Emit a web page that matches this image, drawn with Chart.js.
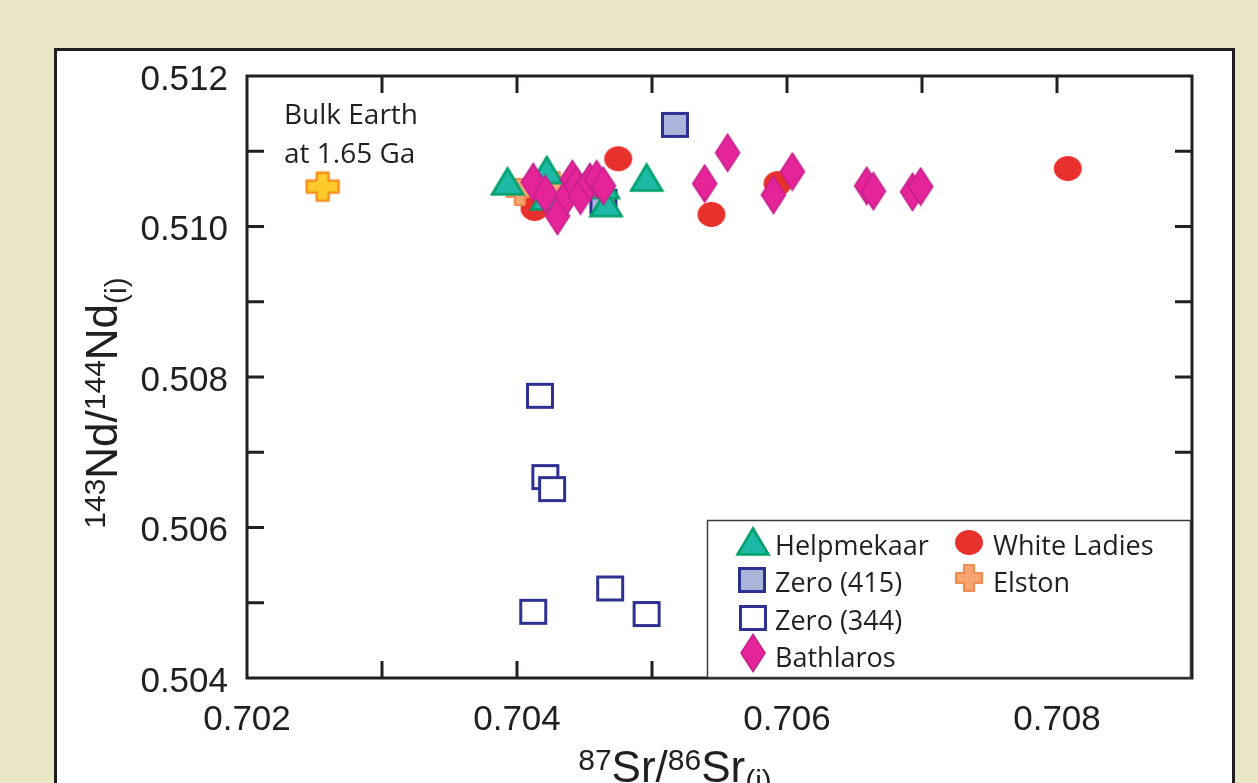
<!DOCTYPE html>
<html>
<head>
<meta charset="utf-8">
<script src="https://cdn.jsdelivr.net/npm/chart.js@4.4.1/dist/chart.umd.min.js"></script>
<style>
html,body{margin:0;padding:0;background:#EAE7C6;}
#wrap{width:1258px;height:783px;position:relative;}
canvas{display:block;}
</style>
</head>
<body>
<div id="wrap"><canvas id="c" width="1258" height="783"></canvas></div>
<script>
// ---------- DATA (87Sr/86Sr(i), 143Nd/144Nd(i)) ----------
const seriesNames = ['Helpmekaar', 'Zero (415)', 'Zero (344)', 'Bathlaros', 'White Ladies', 'Elston'];
const helpmekaar = [[0.70393,0.51060],[0.70422,0.51075],[0.70496,0.51065],[0.70466,0.51031],[0.70422,0.51040],[0.70464,0.51055]];
const zero415 = [[0.70517,0.51135],[0.70464,0.51033]];
const zero344 = [[0.70417,0.50775],[0.70421,0.50667],[0.70426,0.50651],[0.70469,0.50519],[0.70412,0.50488],[0.70496,0.50485]];
const bathlaros = [[0.70412,0.51059],[0.70421,0.51043],[0.70430,0.51014],[0.70437,0.51041],[0.70441,0.51063],[0.70444,0.51054],[0.70447,0.51041],[0.70454,0.51059],[0.70459,0.51063],[0.70464,0.51054],[0.70539,0.51057],[0.70556,0.51098],[0.70590,0.51042],[0.70604,0.51073],[0.70659,0.51054],[0.70664,0.51047],[0.70693,0.51046],[0.70699,0.51053]];
const whiteLadies = [[0.70413,0.51024],[0.70475,0.51090],[0.70544,0.51016],[0.70593,0.51057],[0.70808,0.51077]];
const elston = [[0.70402,0.51046],[0.70428,0.51055]];
const bulkEarth = [[0.70256,0.51053]];
const annotationLines = ['Bulk Earth', 'at 1.65 Ga'];
const xTickLabels = ['0.702','0.704','0.706','0.708'];
const yTickLabels = ['0.504','0.506','0.508','0.510','0.512'];
const xRange = [0.702, 0.709];
const yRange = [0.504, 0.512];

// ---------- marker images ----------
function mk(w,h,fn){const c=document.createElement('canvas');c.width=w;c.height=h;const g=c.getContext('2d');fn(g,w,h);return c;}
const imgTriangle = mk(36,31,(g)=>{g.beginPath();g.moveTo(18,2.5);g.lineTo(33.5,28.5);g.lineTo(2.5,28.5);g.closePath();g.fillStyle='#1EB8A6';g.fill();g.lineJoin='miter';g.lineWidth=2.6;g.strokeStyle='#00A16A';g.stroke();});
const imgSqFilled = mk(30,28,(g)=>{g.fillStyle='#ABB4DA';g.fillRect(2,2,26,24);g.lineWidth=3;g.strokeStyle='#2E3192';g.strokeRect(2.5,2.5,25,23);});
const imgSqOpen = mk(30,28,(g)=>{g.fillStyle='#FFFFFF';g.fillRect(2,2,26,24);g.lineWidth=3;g.strokeStyle='#2E3192';g.strokeRect(2.5,2.5,25,23);});
const imgDiamond = mk(28,40,(g)=>{g.beginPath();g.moveTo(14,1.5);g.lineTo(26,20);g.lineTo(14,38.5);g.lineTo(2,20);g.closePath();g.fillStyle='#E6249A';g.fill();g.lineWidth=1.6;g.strokeStyle='#C5208D';g.stroke();});
const imgCircle = mk(30,27,(g)=>{g.beginPath();g.ellipse(15,13.5,14,12.5,0,0,Math.PI*2);g.fillStyle='#E8302D';g.fill();});
function crossPath(g,cx,cy,hw,hh,a){g.beginPath();g.moveTo(cx-a,cy-hh);g.lineTo(cx+a,cy-hh);g.lineTo(cx+a,cy-a);g.lineTo(cx+hw,cy-a);g.lineTo(cx+hw,cy+a);g.lineTo(cx+a,cy+a);g.lineTo(cx+a,cy+hh);g.lineTo(cx-a,cy+hh);g.lineTo(cx-a,cy+a);g.lineTo(cx-hw,cy+a);g.lineTo(cx-hw,cy-a);g.lineTo(cx-a,cy-a);g.closePath();}
const imgElston = mk(32,32,(g)=>{crossPath(g,16,16,13,13,5);g.fillStyle='#F5A572';g.fill();g.lineJoin='round';g.lineWidth=2.2;g.strokeStyle='#F18C4E';g.stroke();});
const imgBulk = mk(40,36,(g)=>{crossPath(g,20,18,16,14,6);g.fillStyle='#FDC92B';g.fill();g.lineJoin='round';g.lineWidth=2.4;g.strokeStyle='#F5901E';g.stroke();});

const toPts = a => a.map(p=>({x:p[0],y:p[1]}));
// Chart.js draws dataset 0 on top, so the list runs from top-most to bottom-most
const datasets = [
  {label:seriesNames[3], data:toPts(bathlaros), pointStyle:imgDiamond},
  {label:seriesNames[0], data:toPts(helpmekaar), pointStyle:imgTriangle},
  {label:seriesNames[1], data:toPts(zero415), pointStyle:imgSqFilled},
  {label:seriesNames[2], data:toPts(zero344), pointStyle:imgSqOpen},
  {label:'Bulk Earth', data:toPts(bulkEarth), pointStyle:imgBulk},
  {label:seriesNames[5], data:toPts(elston), pointStyle:imgElston},
  {label:seriesNames[4], data:toPts(whiteLadies), pointStyle:imgCircle}
];

const INK = '#231F20';
const tickFont = {family:'"Liberation Sans", Arial, sans-serif', size:35};
const textFam = '"Open Sans", "Noto Sans", sans-serif';

function drawRich(ctx, segs, x, y, align){
  let total=0;
  segs.forEach(s=>{ctx.font=s[1]+'px "Liberation Sans", Arial, sans-serif';total+=ctx.measureText(s[0]).width;});
  let cx = align==='center'? x-total/2 : x;
  segs.forEach(s=>{ctx.font=s[1]+'px "Liberation Sans", Arial, sans-serif';ctx.fillText(s[0],cx,y+s[2]);cx+=ctx.measureText(s[0]).width;});
}

const framePlugin = {
  id:'frame',
  beforeDraw(chart){
    const ctx=chart.ctx;
    ctx.save();
    ctx.fillStyle='#EAE7C6';ctx.fillRect(0,0,chart.width,chart.height);
    ctx.fillStyle='#FFFFFF';ctx.fillRect(54,48,1180,760);
    ctx.lineWidth=3;ctx.strokeStyle=INK;ctx.strokeRect(55.5,49.5,1178,760);
    ctx.restore();
  },
  beforeDatasetsDraw(chart){
    const ctx=chart.ctx, a=chart.chartArea, xs=chart.scales.x, ys=chart.scales.y;
    ctx.save();
    ctx.strokeStyle=INK;ctx.lineWidth=3;
    ctx.strokeRect(a.left,a.top,a.right-a.left,a.bottom-a.top);
    const L=17;
    ctx.beginPath();
    xs.ticks.forEach(t=>{const px=xs.getPixelForValue(t.value); if(px<=a.left+2||px>=a.right-2) return;
      ctx.moveTo(px,a.bottom);ctx.lineTo(px,a.bottom-L);ctx.moveTo(px,a.top);ctx.lineTo(px,a.top+L);});
    ys.ticks.forEach(t=>{const py=ys.getPixelForValue(t.value); if(py<=a.top+2||py>=a.bottom-2) return;
      ctx.moveTo(a.left,py);ctx.lineTo(a.left+L,py);ctx.moveTo(a.right,py);ctx.lineTo(a.right-L,py);});
    ctx.stroke();
    ctx.fillStyle=INK;ctx.font='28px '+textFam;ctx.textAlign='left';ctx.textBaseline='alphabetic';
    ctx.fillText(annotationLines[0],284,124);
    ctx.fillText(annotationLines[1],284,163);
    drawRich(ctx,[['87',30,-12],['Sr',44,0],['/',44,0],['86',30,-12],['Sr',44,0],['(i)',30,9]],675,782,'center');
    ctx.save();ctx.translate(117,403);ctx.rotate(-Math.PI/2);
    drawRich(ctx,[['143',30,-12],['Nd',44,0],['/',44,0],['144',30,-12],['Nd',44,0],['(i)',30,9]],0,0,'center');
    ctx.restore();
    ctx.restore();
  },
  afterDatasetsDraw(chart){
    const ctx=chart.ctx;
    ctx.save();
    ctx.fillStyle='#FFFFFF';ctx.fillRect(707,520,483,158);
    ctx.strokeStyle='#3A3A3A';ctx.lineWidth=1.5;ctx.strokeRect(707.5,520.5,483,157);
    const byLabel={};chart.data.datasets.forEach(d=>byLabel[d.label]=d.pointStyle);
    const entries=[
      [seriesNames[0],753,541,775,555],
      [seriesNames[1],752,580,775,592],
      [seriesNames[2],753,618,775,630],
      [seriesNames[3],753,653,775,667],
      [seriesNames[4],969,542,993,555],
      [seriesNames[5],969,578,993,592]
    ];
    ctx.fillStyle=INK;ctx.font='27px '+textFam;ctx.textAlign='left';ctx.textBaseline='alphabetic';
    entries.forEach(e=>{const im=byLabel[e[0]];ctx.drawImage(im,Math.round(e[1]-im.width/2),Math.round(e[2]-im.height/2));ctx.fillText(e[0],e[3],e[4]);});
    ctx.restore();
  }
};

new Chart(document.getElementById('c'),{
  type:'scatter',
  data:{datasets},
  options:{
    responsive:false, animation:false, events:[], devicePixelRatio:1,
    layout:{padding:{top:76,right:66,left:0,bottom:0}},
    plugins:{legend:{display:false},tooltip:{enabled:false}},
    elements:{point:{radius:14,borderWidth:0}},
    scales:{
      x:{type:'linear',min:xRange[0],max:xRange[1],
        afterFit(s){s.height=105;},
        grid:{display:false,drawTicks:false},
        border:{display:false},
        ticks:{stepSize:0.001,padding:21,color:INK,font:tickFont,maxRotation:0,autoSkip:false,
          callback:v=>{const s=(+v).toFixed(3);return xTickLabels.includes(s)?s:'';}}},
      y:{type:'linear',min:yRange[0],max:yRange[1],
        afterFit(s){s.width=247;},
        grid:{display:false,drawTicks:false},
        border:{display:false},
        ticks:{stepSize:0.001,padding:19,color:INK,font:tickFont,labelOffset:4,autoSkip:false,
          callback:v=>{const s=(+v).toFixed(3);return yTickLabels.includes(s)?s:'';}}}
    }
  },
  plugins:[framePlugin]
});
</script>
</body>
</html>
